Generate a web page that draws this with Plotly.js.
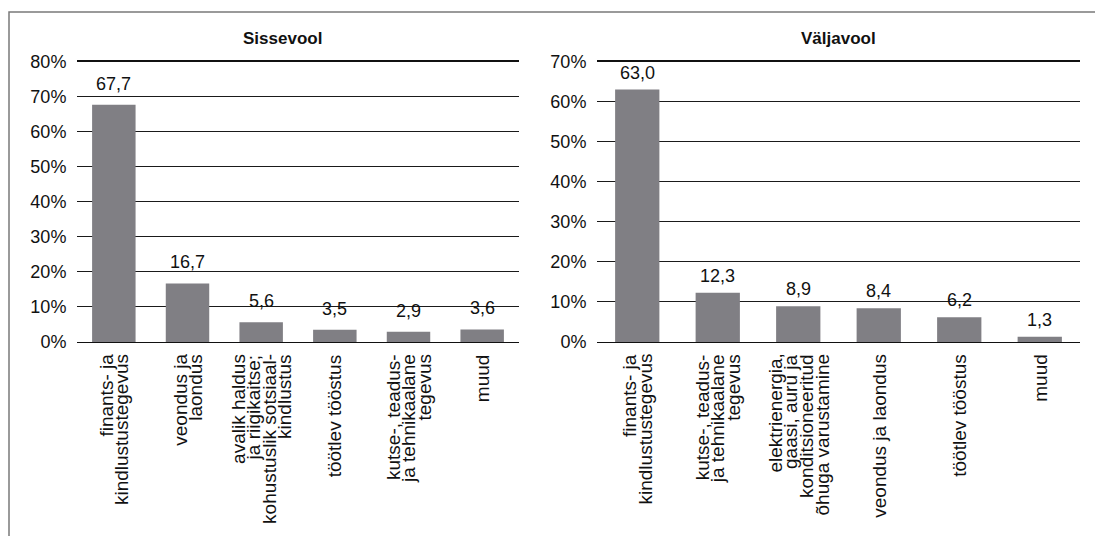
<!DOCTYPE html>
<html>
<head>
<meta charset="utf-8">
<script src="https://cdn.plot.ly/plotly-3.0.1.min.js"></script>
<style>
  html, body { margin: 0; padding: 0; background: #ffffff; }
  #chart { width: 1095px; height: 536px; }
</style>
</head>
<body>
<div id="chart"></div>
<script>
// ---- Data ----
const inTitle = 'Sissevool';
const outTitle = 'Väljavool';

const inCategories = [
  'finants- ja<br>kindlustustegevus',
  'veondus ja<br>laondus',
  'avalik haldus<br>ja riigikaitse;<br>kohustuslik sotsiaal-<br>kindlustus',
  'töötlev tööstus',
  'kutse-, teadus-<br>ja tehnikaalane<br>tegevus',
  'muud'
];
const inValues = [67.7, 16.7, 5.6, 3.5, 2.9, 3.6];

const outCategories = [
  'finants- ja<br>kindlustustegevus',
  'kutse-, teadus-<br>ja tehnikaalane<br>tegevus',
  'elektrienergia,<br>gaasi, auru ja<br>konditsioneeritud<br>õhuga varustamine',
  'veondus ja laondus',
  'töötlev tööstus',
  'muud'
];
const outValues = [63.0, 12.3, 8.9, 8.4, 6.2, 1.3];

const inTicks = [0, 10, 20, 30, 40, 50, 60, 70, 80];
const outTicks = [0, 10, 20, 30, 40, 50, 60, 70];

// ---- Styling ----
const FONT = 'Liberation Sans, Arial, Helvetica, sans-serif';
const BAR = '#807f84';
const W = 1095, H = 536;
const fmt = v => v.toFixed(1).replace('.', ',');

const traces = [
  { type: 'bar', x: inCategories, y: inValues, xaxis: 'x', yaxis: 'y',
    marker: { color: BAR }, width: 0.59, hoverinfo: 'none' },
  { type: 'bar', x: outCategories, y: outValues, xaxis: 'x2', yaxis: 'y2',
    marker: { color: BAR }, width: 0.55, hoverinfo: 'none' }
];

const annotations = [];
function addLabels(cats, vals, xr, yr, labelGap) {
  cats.forEach((c, k) => {
    // value label above bar
    annotations.push({
      x: c, y: vals[k], xref: xr, yref: yr, text: fmt(vals[k]),
      showarrow: false, xanchor: 'center', yanchor: 'bottom', yshift: labelGap,
      font: { family: FONT, size: 18, color: '#111' }
    });
    // category label, rotated, tight leading
    const lines = c.split('<br>');
    const n = lines.length;
    lines.forEach((ln, i) => {
      annotations.push({
        x: c, y: 0, xref: xr, yref: yr, text: ln, textangle: -90,
        showarrow: false, xanchor: 'center', yanchor: 'top',
        yshift: -10, xshift: (i - (n - 1) / 2) * 15.5,
        font: { family: FONT, size: 19, color: '#111' }
      });
    });
  });
}
addLabels(inCategories, inValues, 'x', 'y', 9);
addLabels(outCategories, outValues, 'x2', 'y2', 5);

annotations.push({
  text: '<b>' + inTitle + '</b>', xref: 'paper', yref: 'paper',
  x: 282 / W, y: 1 - 38 / H, showarrow: false, xanchor: 'center', yanchor: 'middle',
  font: { family: FONT, size: 17, color: '#111' }
});
annotations.push({
  text: '<b>' + outTitle + '</b>', xref: 'paper', yref: 'paper',
  x: 838 / W, y: 1 - 38 / H, showarrow: false, xanchor: 'center', yanchor: 'middle',
  font: { family: FONT, size: 17, color: '#111' }
});

const yDom = [1 - 342 / H, 1 - 61.5 / H];

function xAxis(dom) {
  return {
    domain: dom, type: 'category', showticklabels: false, ticks: '',
    showgrid: false, zeroline: false, showline: true, mirror: true,
    linecolor: '#111', linewidth: 1.3,
    fixedrange: true
  };
}
function yAxis(ticks, anchor) {
  return {
    domain: yDom, anchor: anchor, range: [0, ticks[ticks.length - 1]],
    tickvals: ticks, ticktext: ticks.map(t => t + '%'),
    ticks: 'outside', ticklen: 6, tickcolor: 'rgba(0,0,0,0)',
    showgrid: true, gridcolor: '#1a1a1a', gridwidth: 1,
    zeroline: false, showline: false,
    tickfont: { family: FONT, size: 18, color: '#111' },
    fixedrange: true
  };
}

const layout = {
  width: W, height: H,
  margin: { l: 0, r: 0, t: 0, b: 0 },
  paper_bgcolor: '#ffffff', plot_bgcolor: 'rgba(0,0,0,0)',
  showlegend: false,
  font: { family: FONT, size: 18, color: '#111' },
  xaxis: xAxis([77 / W, 519 / W]),
  yaxis: yAxis(inTicks, 'x'),
  xaxis2: xAxis([597 / W, 1080 / W]),
  yaxis2: yAxis(outTicks, 'x2'),
  annotations: annotations,
  shapes: [
    { type: 'rect', xref: 'paper', yref: 'paper',
      x0: 9 / W, x1: 1.05, y0: -0.05, y1: 1 - 12 / H,
      line: { color: '#7a7a7a', width: 1.5 }, fillcolor: 'rgba(0,0,0,0)' }
  ]
};

Plotly.newPlot('chart', traces, layout, { staticPlot: true, displayModeBar: false });
</script>
</body>
</html>
